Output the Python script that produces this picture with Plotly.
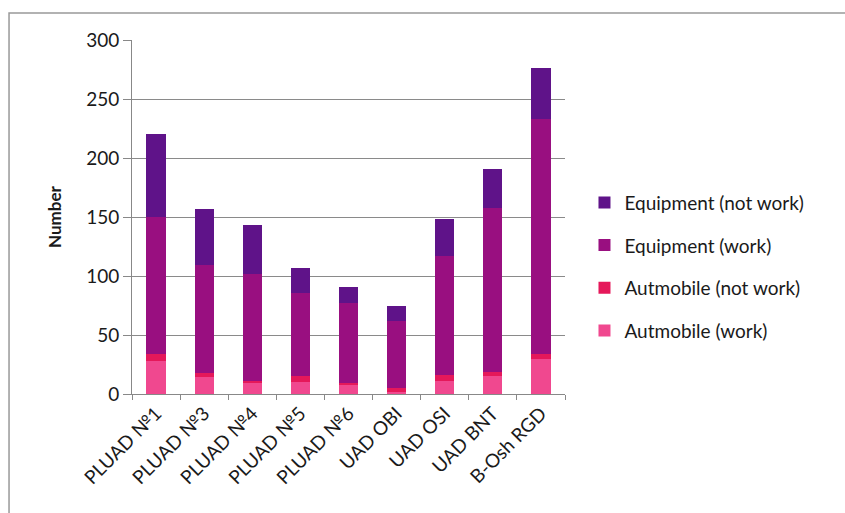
import plotly.graph_objects as go

categories = ["PLUAD №1", "PLUAD №3", "PLUAD №4", "PLUAD №5", "PLUAD №6",
              "UAD OBI", "UAD OSI", "UAD BNT", "B-Osh RGD"]
auto_work = [28, 14, 10, 10, 8, 2, 11, 15, 30]
auto_not_work = [6, 4, 1, 5, 1, 3, 5, 4, 4]
equip_work = [116, 91, 91, 71, 68, 57, 101, 139, 199]
equip_not_work = [70, 48, 41, 21, 14, 13, 31, 33, 43]

series = [
    ("Autmobile (work)", auto_work, "#F0488F"),
    ("Autmobile (not work)", auto_not_work, "#E5185A"),
    ("Equipment (work)", equip_work, "#990F80"),
    ("Equipment (not work)", equip_not_work, "#5F1389"),
]

fig = go.Figure()
for i, (name, vals, col) in enumerate(series):
    fig.add_trace(go.Bar(x=categories, y=vals, name=name, legendgroup=name,
                         legendrank=100 - i,
                         marker=dict(color=col, line=dict(width=0))))

font = "Lato, 'Open Sans', sans-serif"
fig.update_layout(
    barmode="stack",
    bargap=0.6,
    width=845, height=513,
    margin=dict(l=132, r=280, t=40, b=119),
    paper_bgcolor="white", plot_bgcolor="white",
    font=dict(family=font, size=18, color="#1a1a1a"),
    legend=dict(traceorder="grouped", x=1.045, y=0.36, xanchor="left", yanchor="middle",
                font=dict(size=19, color="#1a1a1a"), itemwidth=30, tracegroupgap=15,
                bgcolor="rgba(0,0,0,0)"),
    showlegend=True,
    xaxis=dict(tickangle=-45, ticks="outside", tickson="boundaries", ticklen=5,
               tickcolor="#888", showline=True, linecolor="#888", linewidth=1,
               tickfont=dict(size=19, color="#1a1a1a")),
    yaxis=dict(range=[0, 300], dtick=50, showgrid=True, gridcolor="#8a8a8a", gridwidth=1,
               ticks="outside", ticklen=8, tickcolor="#888", showline=True, linecolor="#888",
               tickfont=dict(size=19, color="#1a1a1a"),
               title=dict(text="<b>Number</b>", font=dict(size=17, color="#1a1a1a"), standoff=20)),
    shapes=[dict(type="rect", xref="paper", yref="paper", x0=-0.284, x1=1.7, y0=-0.4, y1=1.076,
                 line=dict(color="#999", width=1.5), layer="below")],
)

fig.write_html("out.html")
